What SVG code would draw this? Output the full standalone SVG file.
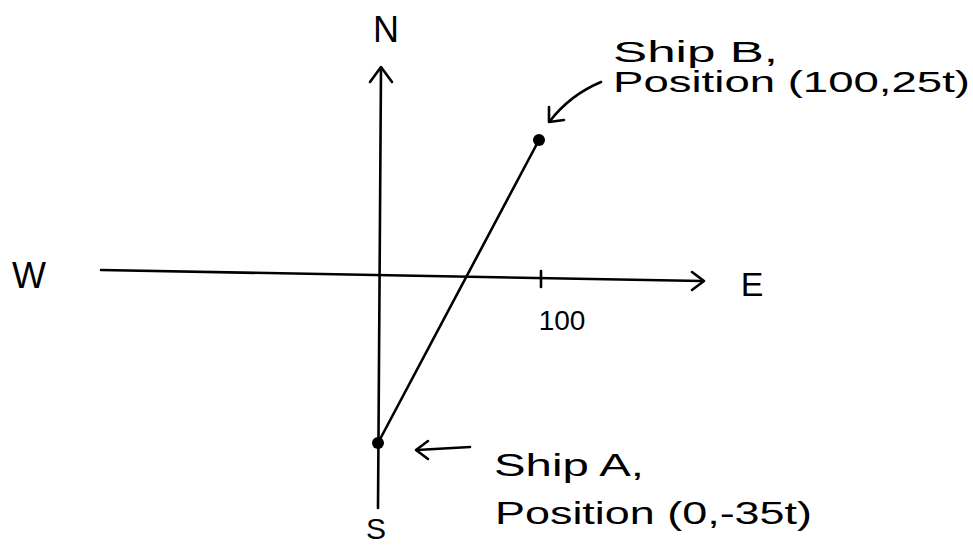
<svg xmlns="http://www.w3.org/2000/svg" width="973" height="546" viewBox="0 0 973 546">
<style>
.ln{stroke:#000;stroke-width:2.6;fill:none;stroke-linecap:round;stroke-linejoin:round}
.t{font-family:"Liberation Sans",Arial,sans-serif;fill:#000}
</style>
<rect width="973" height="546" fill="#fff"/>
<g id="axes">
  <path class="ln" d="M381 68 L378 508"/>
  <path class="ln" d="M370 82 L381 67 L392 82"/>
  <path class="ln" d="M101 270 L702 281"/>
  <path class="ln" d="M692 272 L704 281 L692 290"/>
  <path class="ln" d="M541 271 L541 287"/>
</g>
<g id="labels">
  <text class="t" x="386" y="42" font-size="36" text-anchor="middle">N</text>
  <text class="t" x="376" y="539" font-size="30" text-anchor="middle">S</text>
  <text class="t" x="752" y="296" font-size="34" text-anchor="middle">E</text>
  <text class="t" x="29" y="288" font-size="36" text-anchor="middle">W</text>
  <text class="t" x="562" y="330" font-size="28" text-anchor="middle">100</text>
</g>
<g id="shipA">
  <circle cx="378" cy="443" r="6" fill="#000"/>
  <text class="t" x="494" y="476" font-size="32" textLength="150" lengthAdjust="spacingAndGlyphs">Ship A,</text>
  <text class="t" x="495" y="524" font-size="32" textLength="317" lengthAdjust="spacingAndGlyphs">Position (0,-35t)</text>
</g>
<g id="shipB">
  <circle cx="539" cy="140" r="6" fill="#000"/>
  <text class="t" x="613" y="62" font-size="30" textLength="165" lengthAdjust="spacingAndGlyphs">Ship B,</text>
  <text class="t" x="613" y="92" font-size="30" textLength="357" lengthAdjust="spacingAndGlyphs">Position (100,25t)</text>
</g>
<g id="connectors">
  <path class="ln" d="M539 140 L378 443"/>
  <path class="ln" d="M470 447 L417 450"/>
  <path class="ln" d="M428 441 L416 450 L428 459"/>
  <path class="ln" d="M601 82 Q570 95 550 121"/>
  <path class="ln" d="M549 107 L549 122 L564 120"/>
</g>
</svg>
